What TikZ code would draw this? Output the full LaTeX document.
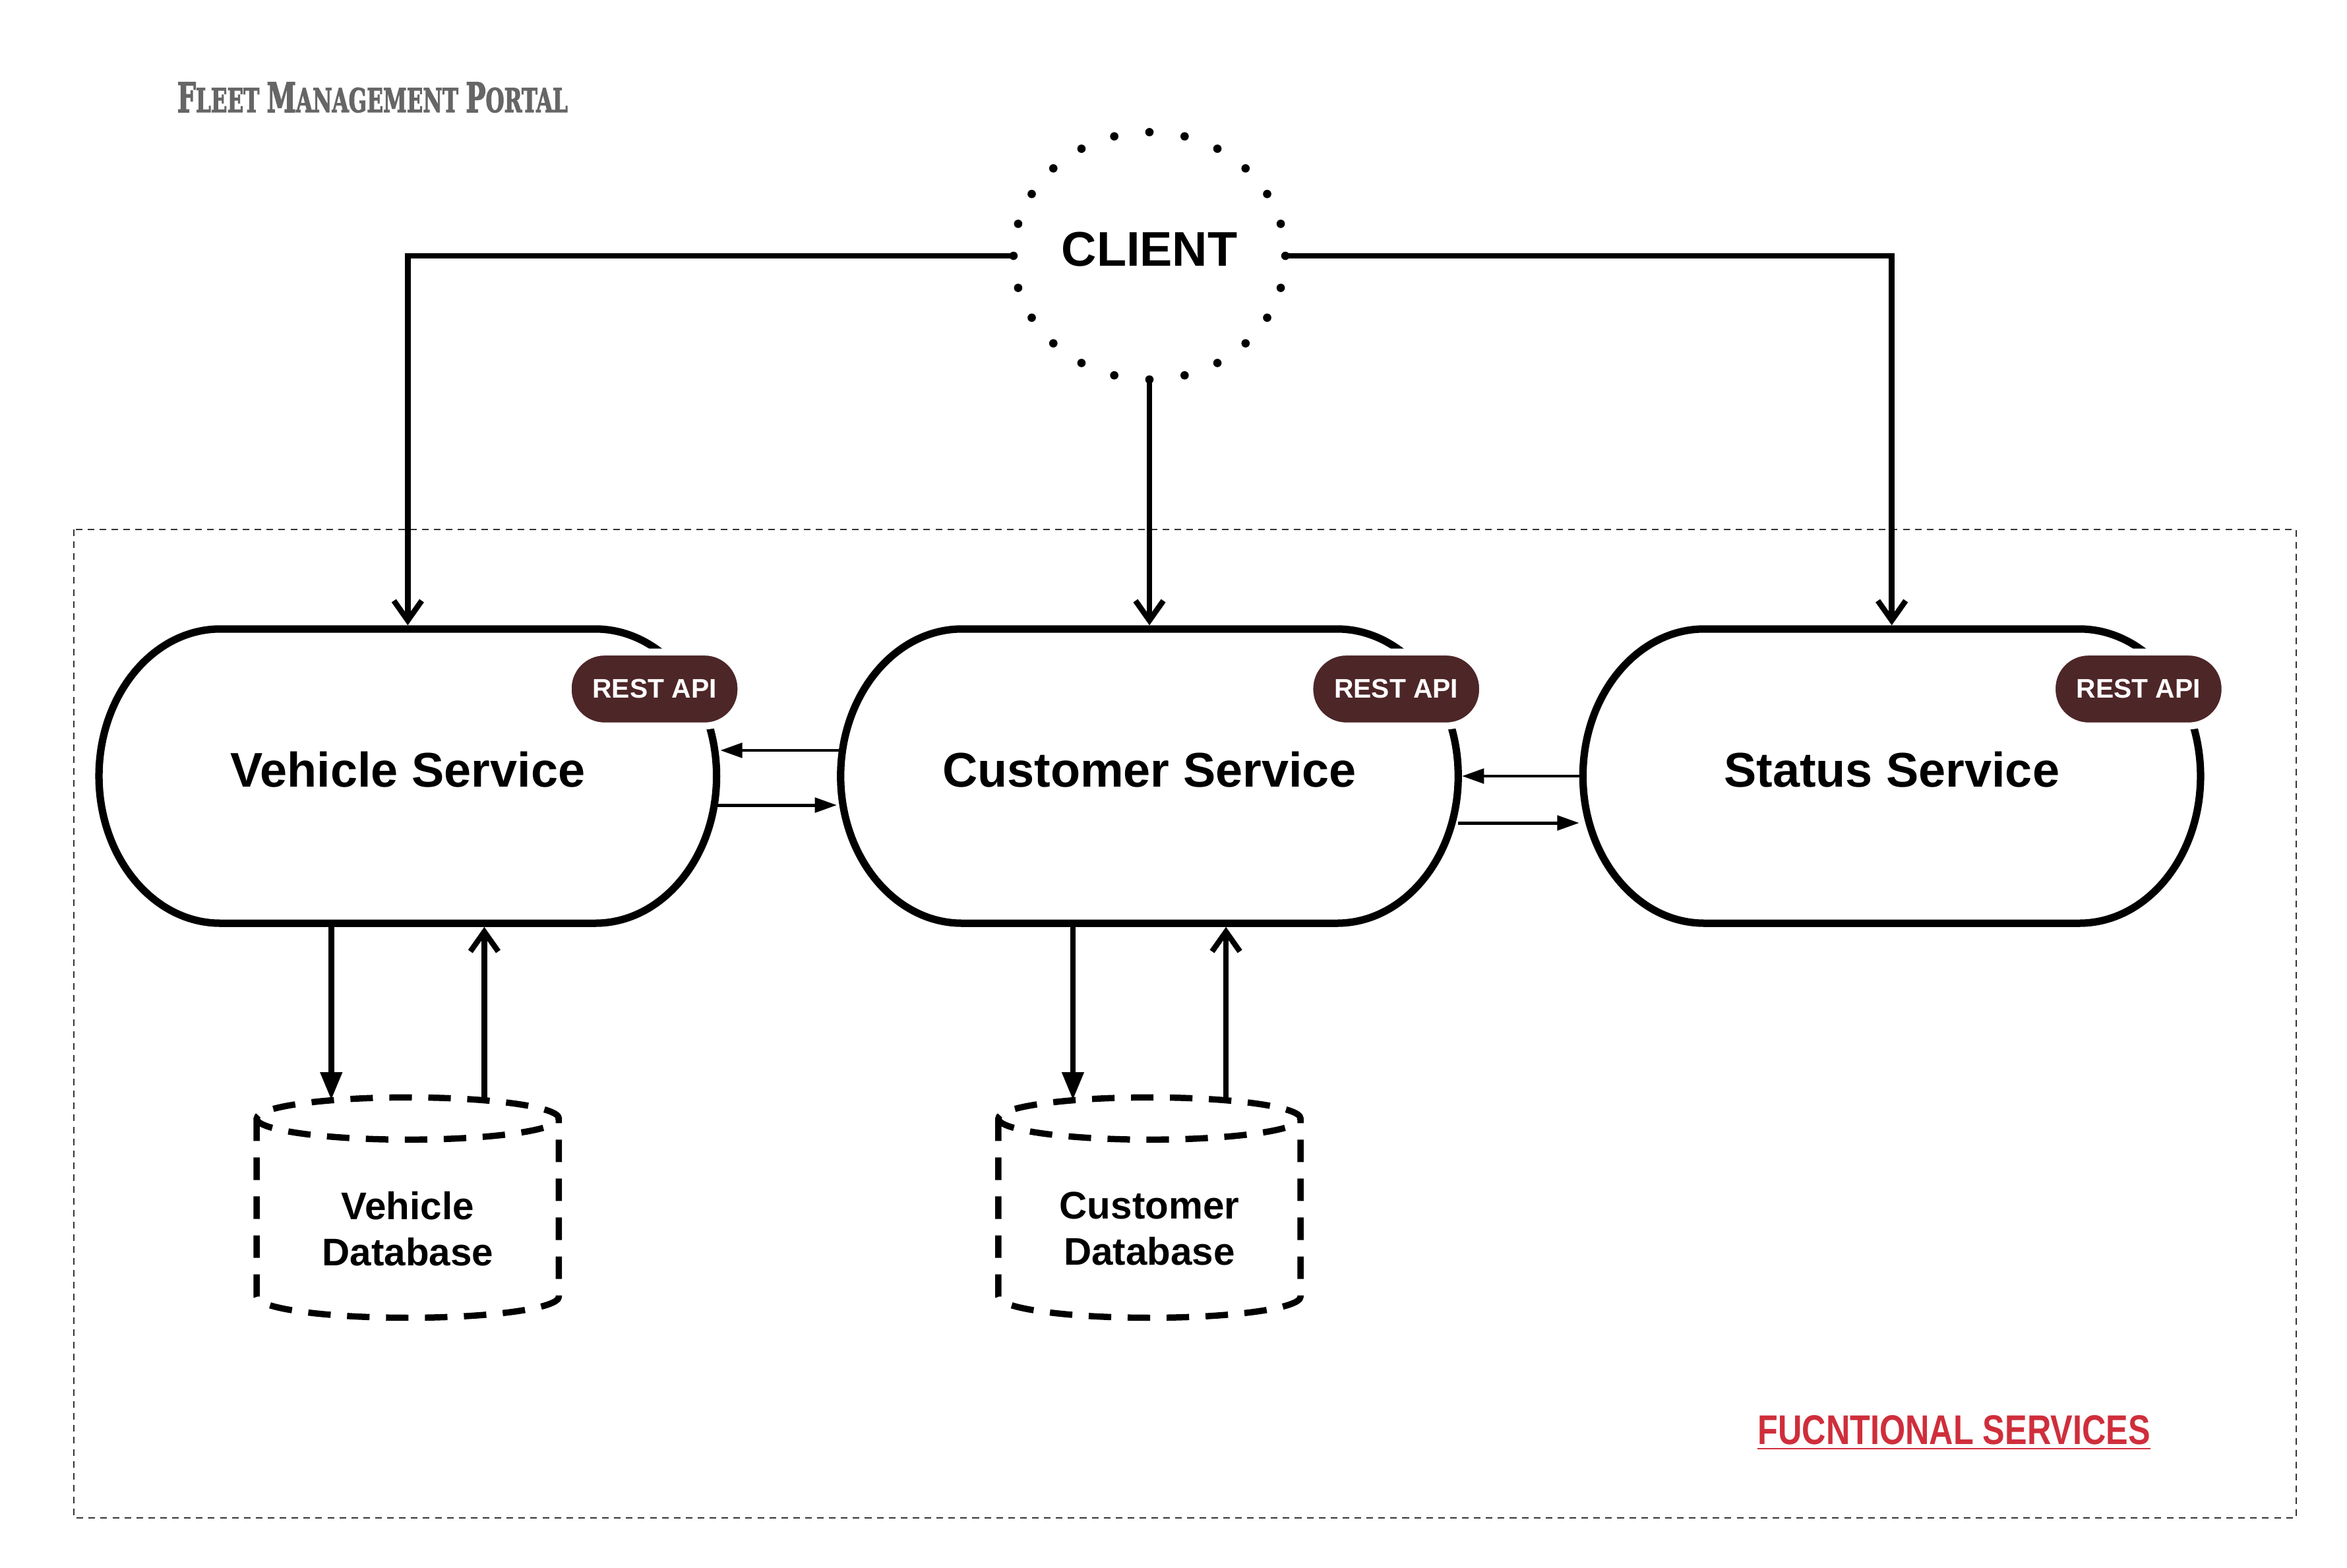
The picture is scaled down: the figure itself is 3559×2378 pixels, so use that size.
\documentclass[tikz,border=0pt]{standalone}
\usepackage{fontspec}
\usepackage{graphicx}
\setmainfont{Liberation Sans}
\newfontfamily\slabfont[BoldFeatures={FakeBold=2.5}]{DejaVu Serif Condensed}
\usetikzlibrary{arrows.meta}
\usetikzlibrary{positioning}
\usetikzlibrary{shapes.geometric}
\definecolor{apibrown}{HTML}{4D2628}
\definecolor{tagred}{HTML}{CF2E3B}
\colorlet{titlegray}{black!60}
\colorlet{boxline}{black!80}

\begin{document}
\begin{tikzpicture}[x=0.01cm, y=0.01cm,
    service/.style={minimum width=9.36cm, minimum height=4.46cm, inner sep=0pt, outer sep=0pt,
        text depth=0.2cm, font=\fontsize{21}{25}\selectfont\bfseries},
    serviceline/.style={line width=3.2pt},
    apibadge/.style={fill=apibrown, draw=white, line width=3pt, rounded corners=0.55cm,
        minimum width=2.62cm, minimum height=1.12cm, inner sep=0pt, text=white,
        font=\fontsize{11.6}{14}\selectfont\bfseries},
    client/.style={ellipse, minimum width=4.12cm, minimum height=3.75cm, inner sep=0pt, outer sep=0pt,
        text depth=0.2cm, font=\fontsize{21}{25}\selectfont\bfseries},
    database/.style={minimum width=4.58cm, minimum height=2.7cm, inner sep=0pt, outer sep=0pt,
        align=center, font=\fontsize{16.6}{19.9}\selectfont\bfseries},
    dbline/.style={line width=2.7pt, dash pattern=on 9.7pt off 7.1pt},
    clientlink/.style={line width=2.4pt, shorten >=1.6pt, -{Straight Barb[length=8.5pt,width=12pt]}},
    dbwrite/.style={line width=2.4pt, -{Triangle[length=12pt,width=9pt]}},
    dbread/.style={line width=2.4pt, shorten >=1.6pt, -{Straight Barb[length=8.5pt,width=12pt]}},
    peerlink/.style={line width=1.4pt, shorten >=1.6pt, -{Triangle[length=9.5pt,width=6.3pt]}}
]
        \useasboundingbox (0,0) rectangle (3559,-2378);

        % title and frame
        \node[anchor=base west, inner sep=0pt, text=titlegray] (portal) at (268,-170)
            {\slabfont\bfseries\scalebox{0.72}[1]{\fontsize{17.6}{20}\selectfont F\fontsize{14.2}{16}\selectfont LEET
             \fontsize{17.6}{20}\selectfont M\fontsize{14.2}{16}\selectfont ANAGEMENT
             \fontsize{17.6}{20}\selectfont P\fontsize{14.2}{16}\selectfont ORTAL}};
        \draw[boxline, line width=0.45pt, dash pattern=on 2.85pt off 2.3pt] (112,-803) rectangle (3482,-2302);

        % client
        \node[client] (client) at (1743,-388) {CLIENT};
        \foreach \a in {0,15,...,345}
        {
            \fill (client.center) ++(\a:2.06cm and 1.875cm) circle[radius=1.8pt];
        }

        % services
        \node[service] (cust) at (1743,-1177) {Customer Service};
        \node[service] (veh) [left=1.88cm of cust] {Vehicle Service};
        \node[service] (stat) [right=1.89cm of cust] {Status Service};
        \foreach \s in {veh,cust,stat}
        {
            \draw[serviceline] ([xshift=1.84cm]\s.north west) -- ([xshift=-1.84cm]\s.north east)
                arc[start angle=90, end angle=-90, x radius=1.84cm, y radius=2.23cm]
                -- ([xshift=1.84cm]\s.south west)
                arc[start angle=270, end angle=90, x radius=1.84cm, y radius=2.23cm] -- cycle;
            \node[apibadge] (\s api) at ([xshift=3.74cm,yshift=1.32cm]\s.center) {REST API};
        }

        % databases
        \node[database] (vehdb) [below=3.28cm of veh] {Vehicle\\Database};
        \node[database] (custdb) [below=3.28cm of cust] {Customer\\Database};
        \foreach \s in {vehdb,custdb}
        {
            \draw[dbline] ([yshift=0.32cm]\s.north west) -- ([yshift=0.32cm]\s.south west)
                arc[start angle=180, end angle=360, x radius=2.29cm, y radius=0.32cm]
                -- ([yshift=0.32cm]\s.north east)
                arc[start angle=0, end angle=180, x radius=2.29cm, y radius=0.32cm]
                arc[start angle=180, end angle=360, x radius=2.29cm, y radius=0.32cm];
        }

        % connectors
        \draw[clientlink] (client.west) -| (veh.north);
        \draw[clientlink] (client.south) -- (cust.north);
        \draw[clientlink] (client.east) -| (stat.north);
        \draw[peerlink] ([yshift=0.39cm]cust.west) -- ([yshift=0.39cm]veh.east);
        \draw[peerlink] ([yshift=-0.44cm]veh.east) -- ([yshift=-0.44cm]cust.west);
        \draw[peerlink] (stat.west) -- (cust.east);
        \draw[peerlink] ([yshift=-0.71cm]cust.east) -- ([yshift=-0.71cm]stat.west);
        \foreach \s in {veh,cust}
        {
            \draw[dbwrite] ([xshift=-1.16cm]\s.south) -- ([xshift=-1.16cm,yshift=0.6cm]\s db.north);
            \draw[dbread] ([xshift=1.16cm,yshift=0.6cm]\s db.north) -- ([xshift=1.16cm]\s.south);
        }

        % frame label
        \node[anchor=base west, inner sep=0pt, text=tagred] (fslabel) at (2665,-2190)
            {\scalebox{0.8}[1]{\fontsize{17.9}{20}\selectfont\bfseries FUCNTIONAL SERVICES}};
        \draw[tagred, line width=0.5pt] ([yshift=-0.06cm]fslabel.south west) -- ([yshift=-0.06cm]fslabel.south east);
    \end{tikzpicture}
\end{document}
